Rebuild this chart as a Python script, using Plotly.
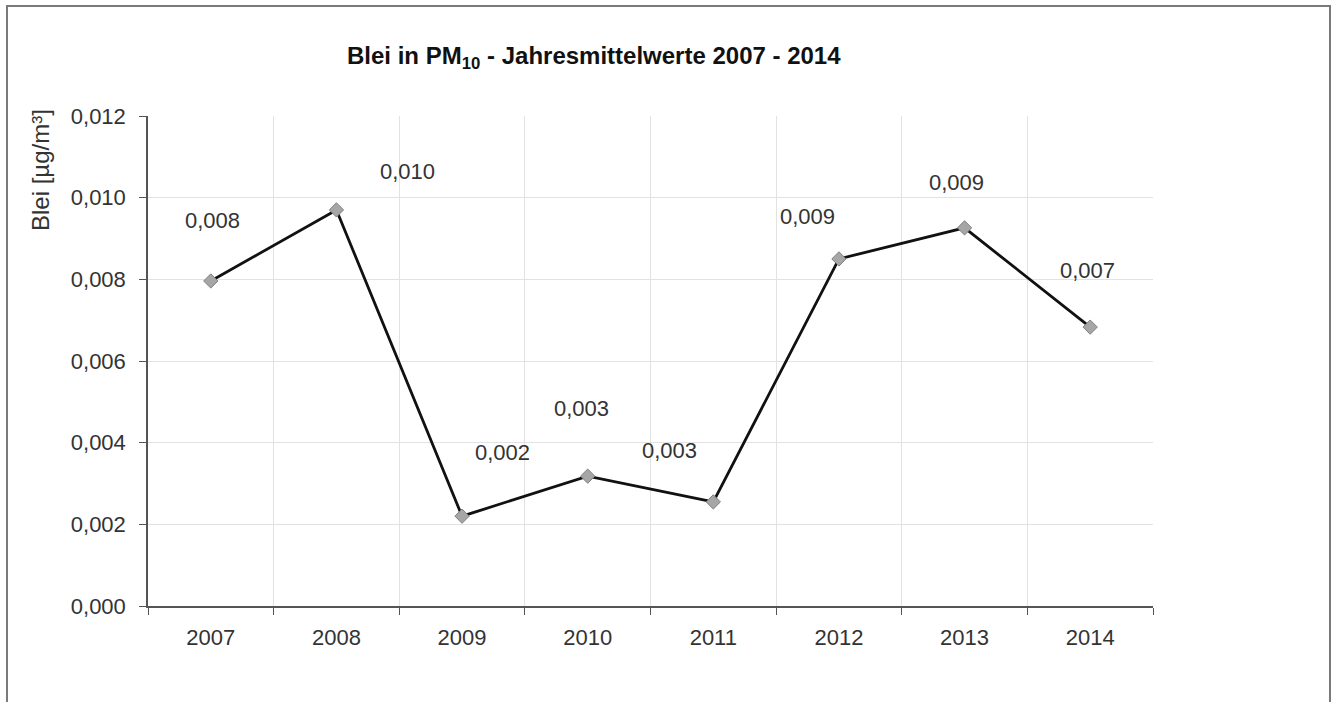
import plotly.graph_objects as go

# Annual mean lead concentration in PM10
years = ["2007", "2008", "2009", "2010", "2011", "2012", "2013", "2014"]
lead_ugm3 = [0.00796, 0.0097, 0.0022, 0.00318, 0.00255, 0.0085, 0.00926, 0.00683]
y_ticks = [0.0, 0.002, 0.004, 0.006, 0.008, 0.010, 0.012]

# Pixel offsets of each data label relative to its point (dx right, dy up)
label_offsets = [(2, 60), (71, 38), (40, 64), (-6, 68), (-44, 51), (-31, 42), (-8, 45), (-3, 57)]

W, H = 1331, 702
L, R, T, B = 148, 178, 116, 96
pw, ph = W - L - R, H - T - B

def px(x):
    return (x - L) / pw

def py(y):
    return (H - B - y) / ph

font = "Liberation Sans, Arial, sans-serif"
txt = "#333333"

fig = go.Figure()
fig.add_trace(go.Scatter(
    x=years, y=lead_ugm3, mode="lines+markers",
    line=dict(color="#111111", width=2.8),
    marker=dict(symbol="diamond", size=11, color="#a6a6a6",
                line=dict(color="#7f7f7f", width=1)),
    hoverinfo="x+y", showlegend=False,
))

annotations = []
for i, (v, (dx, dy)) in enumerate(zip(lead_ugm3, label_offsets)):
    annotations.append(dict(
        x=i, y=v, xref="x", yref="y", text=f"{v:.3f}".replace(".", ","),
        showarrow=False, xshift=dx, yshift=dy,
        font=dict(family=font, size=22, color=txt),
    ))

annotations.append(dict(
    x=px(594), y=py(57), xref="paper", yref="paper",
    text="<b>Blei in PM<sub>10</sub> - Jahresmittelwerte 2007 - 2014</b>",
    showarrow=False, xanchor="center", yanchor="middle",
    font=dict(family=font, size=24, color="#111111"),
))
annotations.append(dict(
    x=px(40), y=py(170), xref="paper", yref="paper",
    text="Blei [µg/m³]", textangle=-90,
    showarrow=False, xanchor="center", yanchor="middle",
    font=dict(family=font, size=24, color=txt),
))

fig.update_layout(
    width=W, height=H,
    margin=dict(l=L, r=R, t=T, b=B),
    paper_bgcolor="white", plot_bgcolor="white",
    separators=",.",
    annotations=annotations,
    shapes=[dict(
        type="rect", xref="paper", yref="paper",
        x0=px(7), x1=px(1330), y0=py(760), y1=py(6),
        line=dict(color="#7a7a7a", width=2), fillcolor="rgba(0,0,0,0)",
        layer="below",
    )],
)

fig.update_xaxes(
    type="category", tickson="boundaries", ticks="outside", ticklen=7,
    tickcolor="#555555", showline=True, linecolor="#555555", linewidth=1.5,
    showgrid=True, gridcolor="#e2e2e2", gridwidth=1,
    tickfont=dict(family=font, size=22, color=txt), ticklabelstandoff=11,
    range=[-0.5, 7.5], fixedrange=True,
)
fig.update_yaxes(
    range=[0, 0.012], tickvals=y_ticks, tickformat=".3f",
    ticks="outside", ticklen=7, tickcolor="#555555",
    showline=True, linecolor="#555555", linewidth=1.5,
    showgrid=True, gridcolor="#e2e2e2", gridwidth=1, zeroline=False,
    tickfont=dict(family=font, size=22, color=txt), ticklabelstandoff=9,
    fixedrange=True,
)

fig.write_html("out.html", config={"displayModeBar": False})
